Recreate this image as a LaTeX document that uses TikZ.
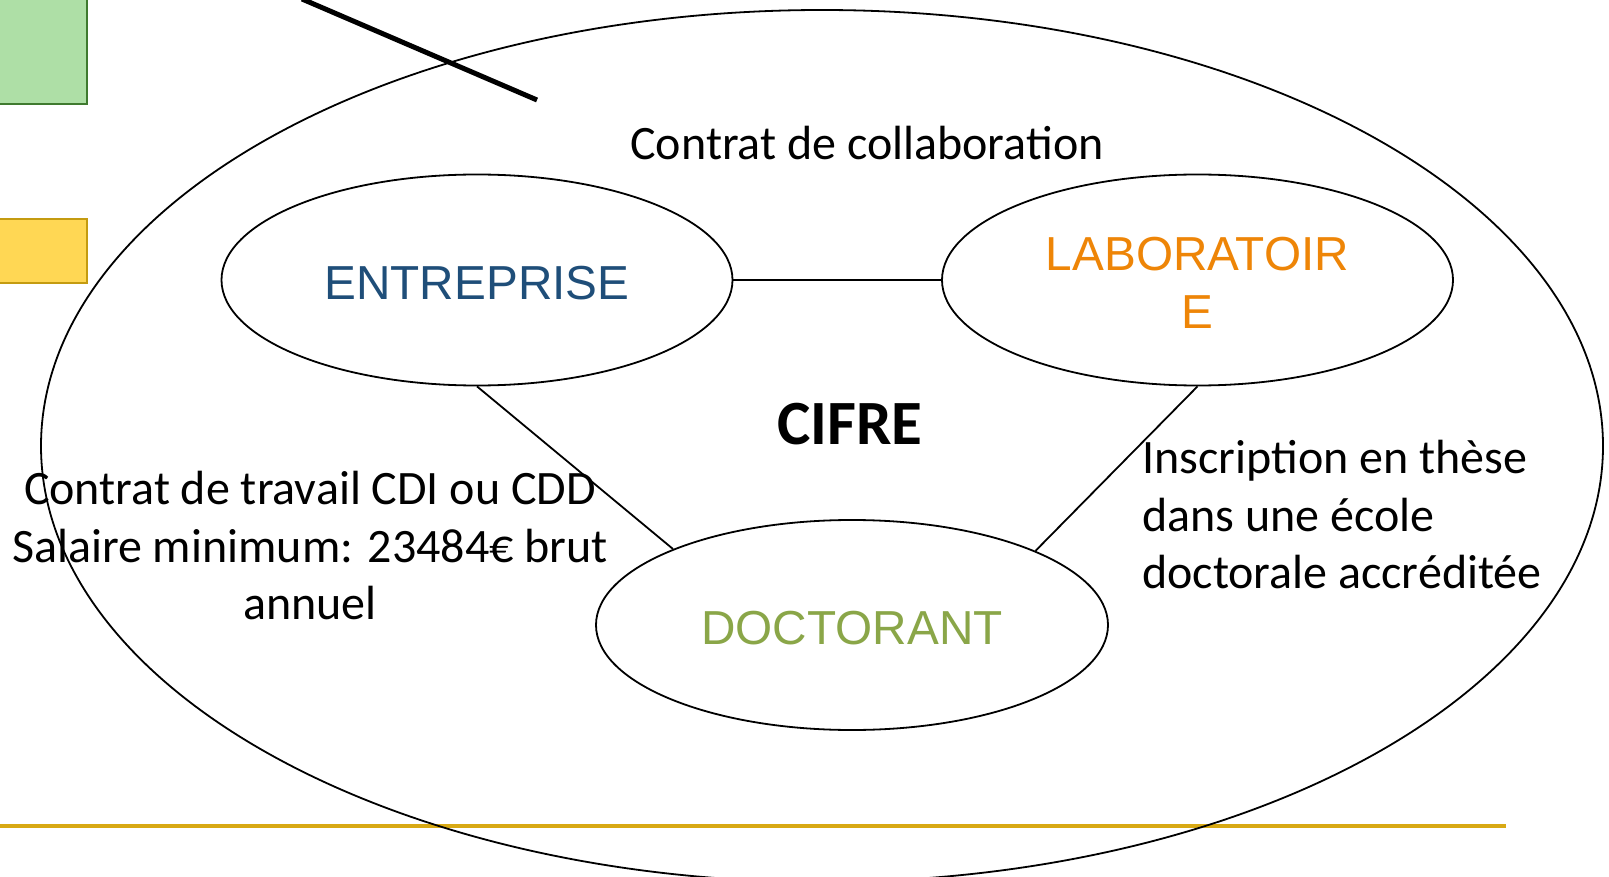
\documentclass[tikz,border=0pt]{standalone}
\usepackage{fontspec}
\setmainfont{Carlito}
\newfontfamily\arialf{Liberation Sans}
\usetikzlibrary{shapes.geometric}
\definecolor{entblue}{HTML}{1F4E79}
\definecolor{laborange}{HTML}{EE8507}
\definecolor{docgreen}{HTML}{8AA648}
\definecolor{gfill}{HTML}{AEDFA6}
\definecolor{gdraw}{HTML}{3F7A2F}
\definecolor{yfill}{HTML}{FFD754}
\definecolor{ydraw}{HTML}{C49B10}
\definecolor{gold}{HTML}{D8A914}
\tikzset{
  party/.style={draw, ellipse, line width=1.8pt, minimum width=511pt, minimum height=211pt, inner sep=0pt,
    font={\arialf\fontsize{47.7}{57.5}\selectfont}, align=center},
  label/.style={font={\fontsize{48}{57.5}\selectfont}, inner sep=0pt},
  link/.style={line width=1.8pt}
}
\begin{document}
\begin{tikzpicture}[x=1pt,y=-1pt]
\clip (0,0) rectangle (1609,877);
\fill[white] (0,0) rectangle (1609,877);
% side rectangles
\node[draw=gdraw, fill=gfill, line width=2pt, minimum width=100pt, minimum height=130pt, inner sep=0pt, anchor=south east] (grect) at (88,105) {};
\node[draw=ydraw, fill=yfill, line width=2pt, minimum width=100pt, minimum height=64pt, inner sep=0pt, anchor=south east] (yrect) at (88,284) {};
% gold line
\coordinate (gl0) at (0,826);
\coordinate (gl1) at (1506,826);
\draw[gold, line width=4pt] (gl0) -- (gl1);
% big ellipse
\node[draw, ellipse, line width=1.8pt, minimum width=1562pt, minimum height=872pt, inner sep=0pt] (cifre) at (822,446) {};
% thick black line
\coordinate (bl0) at (302,-1);
\coordinate (bl1) at (537,100);
\draw[line width=5pt] (bl0) -- (bl1);
% parties
\node[party, text=entblue] (ent) at (477,280) {\raisebox{-3pt}[\height][\depth]{ENTREPRISE}};
\node[party, text=laborange] (lab) at (1197.5,280) {\raisebox{-8pt}[\height][\depth]{\begin{tabular}{@{}c@{}}LABORATOIR\\E\end{tabular}}};
\node[party, text=docgreen, minimum width=512pt, minimum height=210pt] (doc) at (852,625) {\raisebox{-3pt}[\height][\depth]{DOCTORANT}};
\draw[link] (ent.east) -- (lab.west);
\draw[link] (ent.south) -- (doc.157.6);
\draw[link] (lab.south) -- (doc.22.3);
% labels
\node[label] (collab) at (867,143) {Contrat de collaboration};
\node[label, font={\bfseries\fontsize{63}{70}\selectfont}] (cif) at (850,424) {CIFRE};
\node[label, align=center] (travail) at (310,546) {Contrat de travail CDI ou CDD\\Salaire minimum: 23484€ brut\\annuel};
\node[label, align=left, anchor=west] (inscr) at (1142,515) {Inscription en thèse\\dans une école\\doctorale accréditée};
\end{tikzpicture}
\end{document}
